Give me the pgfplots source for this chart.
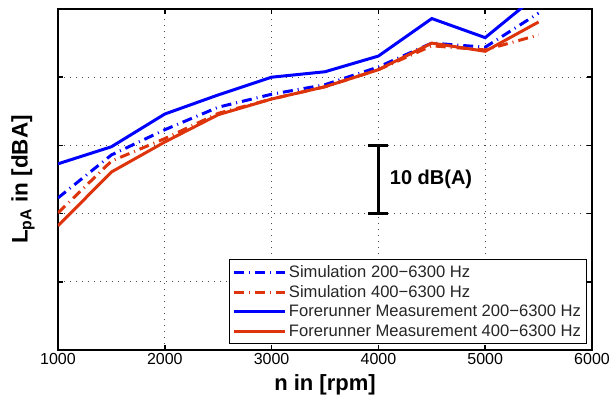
\documentclass[border=0pt]{standalone}
\usepackage{pgfplots}
\pgfplotsset{compat=1.18}
\usepackage{fontspec}
\setmainfont{Liberation Sans}
\definecolor{mblue}{RGB}{0,0,255}
\definecolor{mred}{RGB}{222,52,12}
\begin{document}
\begin{tikzpicture}
\begin{axis}[
  name=ax,
  scale only axis,
  width=534bp, height=341bp,
  xmin=1000, xmax=6000, ymin=0, ymax=50,
  xtick={1000,2000,3000,4000,5000,6000},
  ytick={10,20,30,40},
  yticklabels={,,,},
  xticklabel style={/pgf/number format/1000 sep={}},
  /pgf/number format/assume math mode=true,
  font=\fontsize{16bp}{19bp}\selectfont,
  tick align=inside,
  major tick length=5bp,
  axis line style={line width=2bp},
  every tick/.style={black, line width=1.5bp},
  grid=major,
  major grid style={black!70, line width=1bp, dash pattern=on 1bp off 5bp},
  every axis x label/.style={at={(rel axis cs:0.5,0)}, yshift=-35bp, anchor=center},
  every axis y label/.style={at={(rel axis cs:0,0.5)}, xshift=-35bp, rotate=90, anchor=center},
  xlabel={\fontsize{22bp}{26bp}\selectfont\bfseries n in [rpm]},
  ylabel={\fontsize{22.5bp}{26bp}\selectfont\bfseries L\textsubscript{pA} in [dBA]},
  legend style={at={(rel axis cs:0.9906,0.0176)}, anchor=south east,
    draw=black, line width=1bp, fill=white,
    font=\fontsize{16.6bp}{19bp}\selectfont,
    inner sep=3.5bp, row sep=2.5bp, text=black!85},
  legend cell align=left,
  legend image code/.code={\draw[#1] plot coordinates {(0bp,0bp) (51bp,0bp)};},
]
\addplot[mblue, line width=3bp, dash pattern=on 10bp off 5bp on 1bp off 5bp] coordinates {
 (1000,22.3) (1500,28.6) (2000,32.3) (2500,35.6) (3000,37.5) (3500,38.9)
 (4000,41.5) (4500,45.0) (5000,44.4) (5500,49.4)};
\addlegendentry{Simulation 200−6300 Hz}
\addplot[mred, line width=3bp, dash pattern=on 10bp off 5bp on 1bp off 5bp] coordinates {
 (1000,20.1) (1500,27.7) (2000,31.0) (2500,34.7) (3000,36.8) (3500,38.6)
 (4000,41.1) (4500,44.6) (5000,44.0) (5500,46.2)};
\addlegendentry{Simulation 400−6300 Hz}
\addplot[mblue, line width=3bp] coordinates {
 (1000,27.3) (1500,29.8) (2000,34.6) (2500,37.4) (3000,40.0) (3500,40.8)
 (4000,43.1) (4500,48.6) (5000,45.8) (5500,52.2)};
\addlegendentry{Forerunner Measurement 200−6300 Hz}
\addplot[mred, line width=3bp] coordinates {
 (1000,18.2) (1500,26.1) (2000,30.5) (2500,34.5) (3000,36.8) (3500,38.6)
 (4000,41.1) (4500,45.0) (5000,43.8) (5500,48.1)};
\addlegendentry{Forerunner Measurement 400−6300 Hz}
\draw[black, line width=3bp] (axis cs:4000,20) -- (axis cs:4000,30);
\draw[black, line width=2.5bp] ([xshift=-10bp]axis cs:4000,20) -- ([xshift=10bp]axis cs:4000,20);
\draw[black, line width=2.5bp] ([xshift=-10bp]axis cs:4000,30) -- ([xshift=10bp]axis cs:4000,30);
\node[anchor=west, font=\fontsize{20bp}{24bp}\selectfont\bfseries] at ([xshift=8bp]axis cs:4000,25) {10 dB(A)};
\end{axis}
\pgfresetboundingbox
\path ([xshift=-58bp,yshift=-53bp]ax.south west) rectangle ([xshift=17bp,yshift=9bp]ax.north east);
\end{tikzpicture}
\end{document}
